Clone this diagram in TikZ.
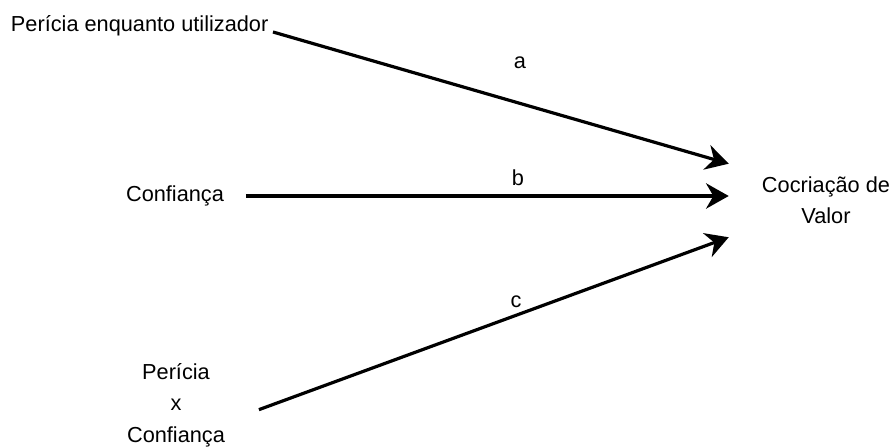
\documentclass[tikz,border=0pt]{standalone}
\usepackage{fontspec}
\setmainfont{Liberation Sans}
\usetikzlibrary{arrows.meta}

\begin{document}
\begin{tikzpicture}[x=0.75pt, y=-0.75pt,
    lbl/.style={inner sep=3.3pt, align=center,
                font=\fontsize{16.3}{23.5}\selectfont},
    conn/.style={line width=2.4pt,
                 -{Stealth[length=17pt, width=19pt, inset=5.5pt]}}]
  \useasboundingbox (0,0) rectangle (894,448);

  % sources
  \node[lbl, anchor=east] (exp) at (273,26) {Perícia enquanto utilizador};
  \node[lbl] (conf) at (175,196) {Confiança};
  \node[lbl] (inter) at (176,405) {Perícia\\x\\Confiança};

  % outcome
  \node[lbl, minimum width=145.5pt, minimum height=54.75pt] (val)
       at (826,200.5) {Cocriação de\\Valor};

  % paths
  \draw[conn] ([yshift=-4.5pt]exp.east) -- (val.north west);
  \draw[conn] ([xshift=13pt]conf.east) -- (val.west |- conf.east);
  \draw[conn] ([xshift=22pt, yshift=-3.5pt]inter.east) -- (val.south west);

  \node[lbl] (la) at (520,63) {a};
  \node[lbl] (lb) at (518,178) {b};
  \node[lbl] (lc) at (516,302) {c};
\end{tikzpicture}
\end{document}
